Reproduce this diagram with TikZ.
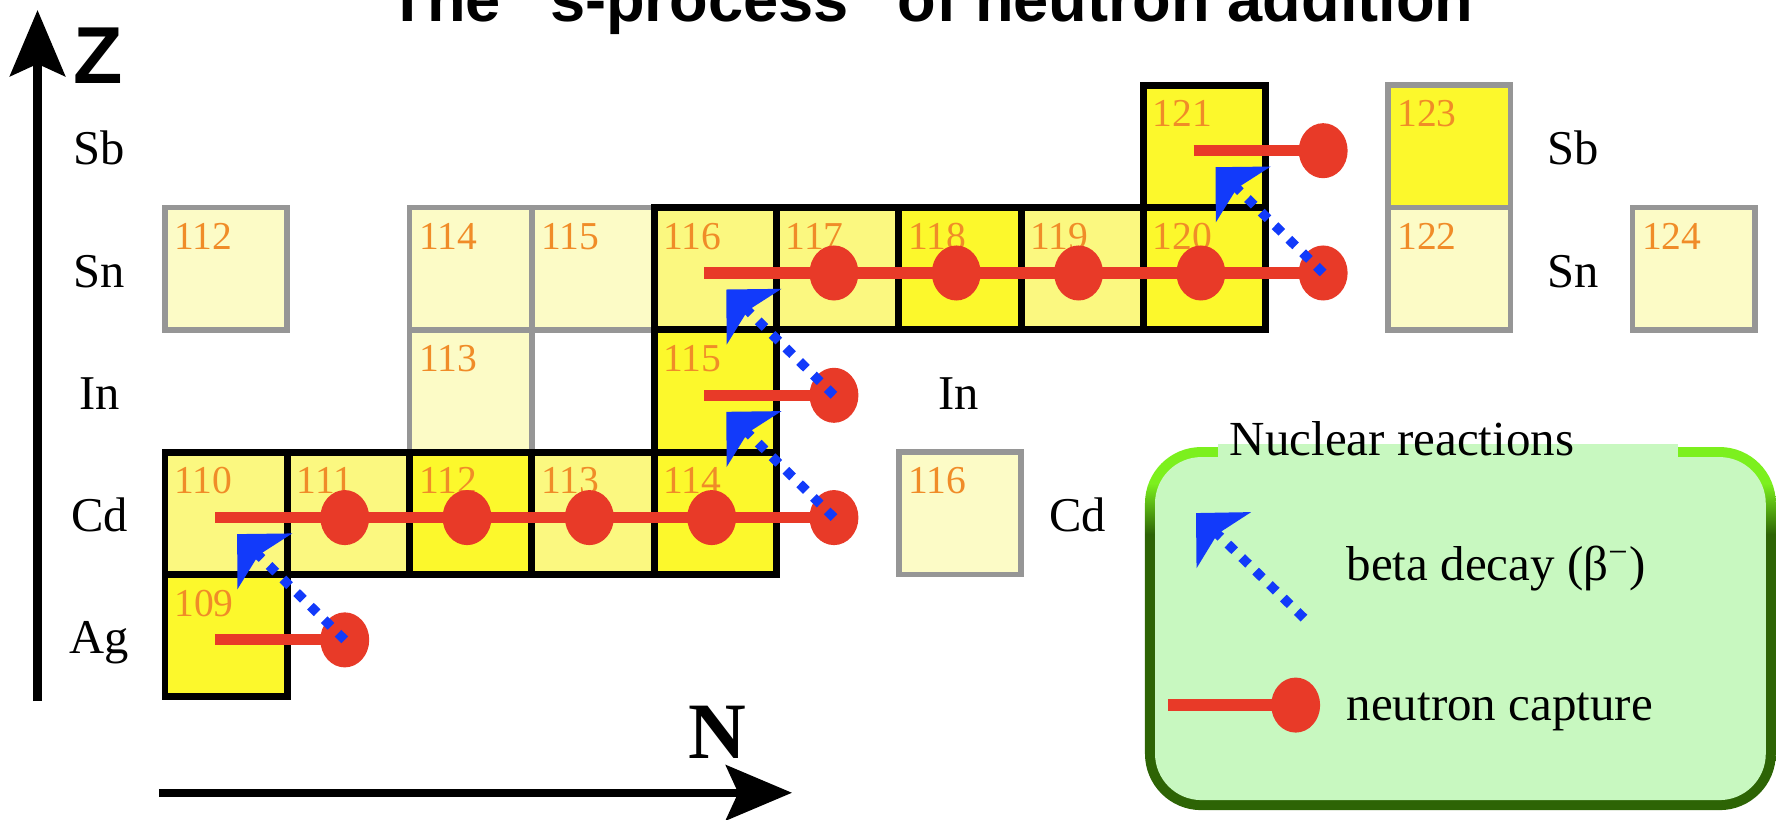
\documentclass[tikz,border=0pt]{standalone}
\usepackage{fontspec}
\setmainfont{Liberation Serif}
\setsansfont{Liberation Sans}
\usepackage{xcolor}
\usepackage{tikz}
\usetikzlibrary{arrows.meta, shapes.geometric, positioning}

\definecolor{hiyellow}{RGB}{252,248,44}
\definecolor{loyellow}{RGB}{251,248,128}
\definecolor{paleyellow}{RGB}{252,251,198}
\definecolor{rimgray}{RGB}{150,150,150}
\definecolor{numorange}{RGB}{240,140,40}
\definecolor{capred}{RGB}{232,58,40}
\definecolor{betablue}{RGB}{18,58,250}
\definecolor{legendfill}{RGB}{200,248,192}
\definecolor{rimlight}{RGB}{124,240,30}
\definecolor{rimdark}{RGB}{45,100,5}
\pgfdeclareverticalshading{rimshade}{100bp}{color(0bp)=(rimdark); color(63bp)=(rimdark); color(70bp)=(rimlight); color(100bp)=(rimlight)}

\begin{document}
\begin{tikzpicture}[
    cell/.style={minimum width=1cm, minimum height=1cm, inner sep=0pt, outer sep=0pt},
    hicell/.style={cell, fill=hiyellow, draw=black, line width=1.6pt},
    locell/.style={cell, fill=loyellow, draw=black, line width=1.6pt},
    palecell/.style={cell, fill=paleyellow, draw=rimgray, line width=1.3pt},
    dimcell/.style={cell, fill=hiyellow, draw=rimgray, line width=1.3pt},
    num/.style={anchor=north west, xshift=0.07cm, yshift=-0.12cm, inner sep=0pt,
        text=numorange, font=\fontsize{9.2}{10}\selectfont},
    elem/.style={anchor=base, inner sep=0pt, font=\fontsize{11.3}{13}\selectfont},
    legtxt/.style={anchor=base west, inner sep=0pt, font=\fontsize{11.4}{13}\selectfont},
    capdot/.style={ellipse, fill=capred, minimum width=0.4cm, minimum height=0.45cm, inner sep=0pt},
    capline/.style={draw=capred, line width=2.6pt},
    betaline/.style={draw=betablue, line width=2.2pt, dash pattern=on 2.2pt off 2.3pt,
        -{Stealth[length=0.315cm, width=0.63cm, inset=0.07cm]}},
    axisarrow/.style={line width=1.9pt, -{Stealth[length=0.54cm, width=0.45cm, inset=0.1cm]}}
]
    \useasboundingbox (-1.349,-1.0) rectangle (13.197,5.697);

    % =================================================================
    % 1. ISOTOPE CELLS (column = N, row = Z)
    % =================================================================
    % off the path
    \node[palecell, label={[num]north west:112}] (sn112) at (0.5,3.5) {};
    \node[palecell, label={[num]north west:114}] (sn114) at (2.5,3.5) {};
    \node[palecell, label={[num]north west:115}] (sn115) at (3.5,3.5) {};
    \node[palecell, label={[num]north west:122}] (sn122) at (10.5,3.5) {};
    \node[palecell, label={[num]north west:124}] (sn124) at (12.5,3.5) {};
    \node[palecell, label={[num]north west:113}] (in113) at (2.5,2.5) {};
    \node[palecell, label={[num]north west:116}] (cd116) at (6.5,1.5) {};
    \node[dimcell, label={[num]north west:123}] (sb123) at (10.5,4.5) {};

    % on the s-process path
    \node[hicell, label={[num]north west:109}] (ag109) at (0.5,0.5) {};
    \node[locell, label={[num]north west:110}] (cd110) at (0.5,1.5) {};
    \node[locell, label={[num]north west:111}] (cd111) at (1.5,1.5) {};
    \node[hicell, label={[num]north west:112}] (cd112) at (2.5,1.5) {};
    \node[locell, label={[num]north west:113}] (cd113) at (3.5,1.5) {};
    \node[hicell, label={[num]north west:114}] (cd114) at (4.5,1.5) {};
    \node[hicell, label={[num]north west:115}] (in115) at (4.5,2.5) {};
    \node[locell, label={[num]north west:116}] (sn116) at (4.5,3.5) {};
    \node[locell, label={[num]north west:117}] (sn117) at (5.5,3.5) {};
    \node[hicell, label={[num]north west:118}] (sn118) at (6.5,3.5) {};
    \node[locell, label={[num]north west:119}] (sn119) at (7.5,3.5) {};
    \node[hicell, label={[num]north west:120}] (sn120) at (8.5,3.5) {};
    \node[hicell, label={[num]north west:121}] (sb121) at (8.5,4.5) {};

    % =================================================================
    % 2. NEUTRON CAPTURES
    % =================================================================
    \coordinate (agstart) at (0.41,0.465);
    \coordinate (cdstart) at (0.41,1.465);
    \coordinate (instart) at (4.41,2.465);
    \coordinate (snstart) at (4.41,3.465);
    \coordinate (sbstart) at (8.41,4.465);

    \node[capdot] (ag1) at (1.47,0.465) {};
    \node[capdot] (cd1) at (1.47,1.465) {};
    \node[capdot] (cd2) at (2.47,1.465) {};
    \node[capdot] (cd3) at (3.47,1.465) {};
    \node[capdot] (cd4) at (4.47,1.465) {};
    \node[capdot] (cd5) at (5.47,1.465) {};
    \node[capdot] (in1) at (5.47,2.465) {};
    \node[capdot] (sn1) at (5.47,3.465) {};
    \node[capdot] (sn2) at (6.47,3.465) {};
    \node[capdot] (sn3) at (7.47,3.465) {};
    \node[capdot] (sn4) at (8.47,3.465) {};
    \node[capdot] (sn5) at (9.47,3.465) {};
    \node[capdot] (sb1) at (9.47,4.465) {};

    \draw[capline] (agstart) -- (ag1.center);
    \draw[capline] (cdstart) -- (cd5.center);
    \draw[capline] (instart) -- (in1.center);
    \draw[capline] (snstart) -- (sn5.center);
    \draw[capline] (sbstart) -- (sb1.center);

    % =================================================================
    % 3. BETA DECAYS
    % =================================================================
    \coordinate (agtip) at (0.59,1.33);
    \coordinate (cdtip) at (4.59,2.33);
    \coordinate (intip) at (4.59,3.33);
    \coordinate (sntip) at (8.59,4.33);

    \draw[betaline] (ag1.center) -- (agtip);
    \draw[betaline] (cd5.center) -- (cdtip);
    \draw[betaline] (in1.center) -- (intip);
    \draw[betaline] (sn5.center) -- (sntip);

    % =================================================================
    % 4. ELEMENT NAMES
    % =================================================================
    \node[elem] (lsb) at (-0.535,4.35) {Sb};
    \node[elem] (lsn) at (-0.535,3.35) {Sn};
    \node[elem] (lin) at (-0.535,2.35) {In};
    \node[elem] (lcd) at (-0.535,1.35) {Cd};
    \node[elem] (lag) at (-0.535,0.35) {Ag};
    \node[elem] (rsb) at (11.51,4.35) {Sb};
    \node[elem] (rsn) at (11.51,3.35) {Sn};
    \node[elem] (rin) at (6.49,2.35) {In};
    \node[elem] (rcd) at (7.46,1.35) {Cd};

    % =================================================================
    % 5. AXES AND TITLE
    % =================================================================
    \coordinate (zbot) at (-1.042,-0.035);
    \coordinate (ztop) at (-1.042,5.615);
    \coordinate (nleft) at (-0.049,-0.785);
    \coordinate (nright) at (5.127,-0.785);
    \draw[axisarrow] (zbot) -- (ztop);
    \draw[axisarrow] (nleft) -- (nright);
    \node[anchor=base, inner sep=0pt, font=\sffamily\bfseries\fontsize{18.8}{20}\selectfont] (zlbl) at (-0.548,5.018) {Z};
    \node[anchor=base, inner sep=0pt, font=\bfseries\fontsize{18.6}{20}\selectfont] (nlbl) at (4.514,-0.501) {N};

    \node[anchor=base, inner sep=0pt, font=\sffamily\bfseries\fontsize{14.7}{17}\selectfont] (title) at (6.264,5.525)
        {The “s-process” of neutron addition};

    % =================================================================
    % 6. LEGEND
    % =================================================================
    \shade[shading=rimshade, rounded corners=0.46cm] (8.013,-0.927) rectangle (13.171,2.042);
    \fill[legendfill, rounded corners=0.38cm] (8.095,-0.845) rectangle (13.089,1.960);
    \fill[legendfill] (8.61,1.9) rectangle (12.37,2.066);
    \node[legtxt] (legtitle) at (8.70,1.976) {Nuclear reactions};

    \coordinate (legtail) at (9.313,0.643);
    \coordinate (legtip) at (8.430,1.502);
    \draw[betaline] (legtail) -- (legtip);
    \node[legtxt] (legbeta) at (9.655,0.954) {beta decay (β\textsuperscript{−})};

    \coordinate (legstart) at (8.20,-0.068);
    \node[capdot] (legdot) at (9.245,-0.068) {};
    \draw[capline] (legstart) -- (legdot.center);
    \node[legtxt] (legcap) at (9.655,-0.190) {neutron capture};

\end{tikzpicture}
\end{document}
